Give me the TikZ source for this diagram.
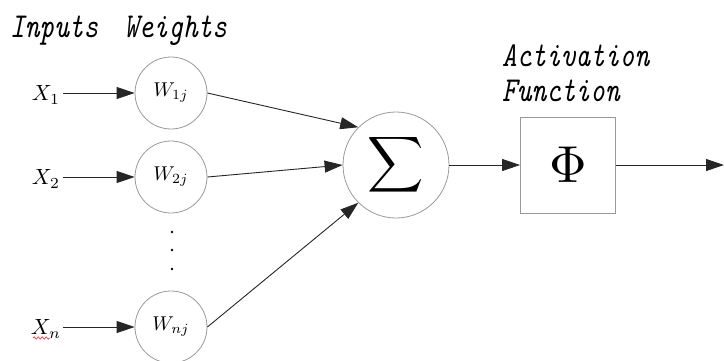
\documentclass[tikz,border=0pt]{standalone}
\usepackage{graphicx}
\usepackage{fontspec}
\usetikzlibrary{arrows.meta,decorations.pathmorphing}
\newcommand{\tallt}[1]{\scalebox{1}[1.25]{#1}}
\begin{document}
\begin{tikzpicture}[x=1pt,y=-1pt,
  wcirc/.style={circle,draw=black!40,line width=0.8pt,minimum size=72pt,inner sep=0pt},
  conn/.style={draw=black!85,line width=0.9pt,-{Triangle[length=18pt,width=12pt]}},
  lbl/.style={font=\fontsize{28}{30}\selectfont\ttfamily\itshape,inner sep=0pt,anchor=base west},
  xl/.style={inner sep=0pt}]
\useasboundingbox (0,0) rectangle (724,360);
\node[lbl] (tin) at (10,37) {\tallt{Inputs}};
\node[lbl] (tw) at (124,37) {\tallt{Weights}};
\node[lbl] (ta) at (502,66) {\tallt{Activation}};
\node[lbl] (tf) at (502,101) {\tallt{Function}};

\node[wcirc] (w1) at (171,93) {\scalebox{2.0}{$W_{1j}$}};
\node[wcirc] (w2) at (171,177) {\scalebox{2.0}{$W_{2j}$}};
\node[wcirc] (wn) at (171,327) {\scalebox{2.0}{$W_{nj}$}};

\node[xl] (x1) at (46,95) {\scalebox{2.2}{$X_1$}};
\node[xl] (x2) at (46,179) {\scalebox{2.2}{$X_2$}};
\node[xl] (xn) at (46,329) {\scalebox{2.2}{$X_n$}};
\draw[red,line width=0.5pt,decorate,decoration={snake,amplitude=1.2pt,segment length=4pt}] (33,338) -- (50,338);

\foreach \yy in {232,250,269}
  \fill (172,\yy) circle (1.3pt);

\node[circle,draw=black!40,line width=0.8pt,minimum size=106pt,inner sep=0pt] (sum) at (396,165)
  {\scalebox{3.9}{$\displaystyle\sum$}};
\node[draw=black!40,line width=0.8pt,minimum width=95pt,minimum height=96pt,inner sep=0pt] (phi) at (568,165)
  {\scalebox{5.2}{$\Phi$}};
\coordinate (out) at (724,165);

\draw[conn] (63,93) -- (w1);
\draw[conn] (63,177) -- (w2);
\draw[conn] (63,327) -- (wn);
\draw[conn] (w1.east) -- (sum.135);
\draw[conn] (w2.east) -- (sum.180);
\draw[conn] (wn.east) -- (sum.225);
\draw[conn] (sum) -- (phi);
\draw[conn] (phi) -- (out);
\end{tikzpicture}
\end{document}
